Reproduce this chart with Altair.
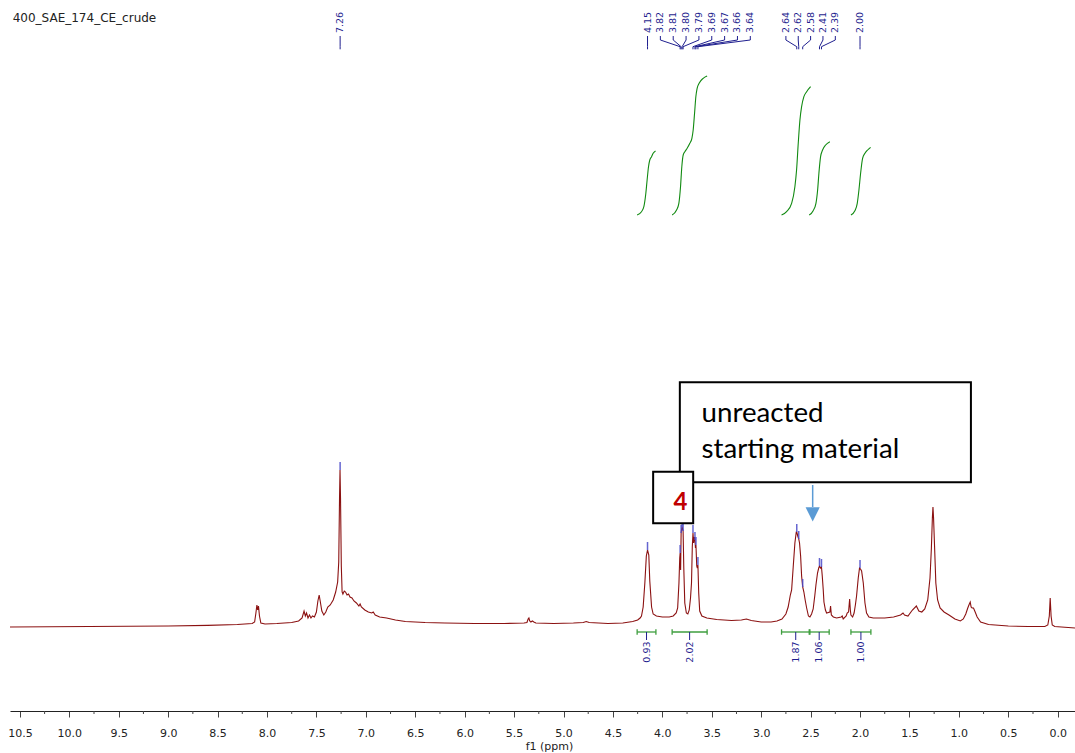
import altair as alt
import pandas as pd

TITLE = "400_SAE_174_CE_crude"
X_TITLE = "f1 (ppm)"
ANNOT_LINES = ["unreacted", "starting material"]
COMPOUND = "4"

# ---- spectrum (ppm, intensity) ----
spec_ppm = [10.60, 10.20, 9.80, 9.40, 9.00, 8.60, 8.30, 8.15, 8.125, 8.112, 8.102, 8.094, 8.086, 8.076, 8.062,
            8.02, 7.90, 7.75, 7.68, 7.645, 7.625, 7.612, 7.600, 7.585, 7.570, 7.555, 7.540, 7.520, 7.500,
            7.485, 7.472, 7.460, 7.445, 7.425, 7.405, 7.385, 7.360, 7.330, 7.305, 7.285, 7.274, 7.266,
            7.261, 7.256, 7.248, 7.240, 7.232, 7.218, 7.205, 7.190, 7.175, 7.160, 7.140, 7.120, 7.095,
            7.070, 7.058, 7.045, 7.010, 6.975, 6.940, 6.925, 6.905, 6.860, 6.790, 6.700, 6.600, 6.400,
            6.200, 5.900, 5.600, 5.400, 5.370, 5.358, 5.350, 5.342, 5.330, 5.315, 5.300, 5.280, 5.100,
            4.900, 4.800, 4.770, 4.740, 4.550, 4.400, 4.300, 4.250, 4.225, 4.211, 4.194, 4.177, 4.162,
            4.150, 4.137, 4.127, 4.109, 4.093, 4.060, 4.000, 3.930, 3.890, 3.860, 3.845, 3.832, 3.824,
            3.820, 3.815, 3.810, 3.805, 3.800, 3.795, 3.790, 3.783, 3.773, 3.757, 3.742, 3.728, 3.715,
            3.705, 3.697, 3.690, 3.683, 3.676, 3.670, 3.665, 3.660, 3.652, 3.646, 3.640, 3.632, 3.622,
            3.600, 3.550, 3.450, 3.300, 3.200, 3.150, 3.100, 3.000, 2.900, 2.840, 2.790, 2.750, 2.727,
            2.705, 2.692, 2.676, 2.659, 2.645, 2.640, 2.630, 2.620, 2.612, 2.601, 2.591, 2.580, 2.568,
            2.555, 2.540, 2.522, 2.507, 2.490, 2.474, 2.458, 2.446, 2.430, 2.418, 2.410, 2.400, 2.390,
            2.382, 2.372, 2.365, 2.350, 2.338, 2.305, 2.298, 2.290, 2.270, 2.237, 2.190, 2.180, 2.170,
            2.140, 2.130, 2.116, 2.105, 2.098, 2.092, 2.075, 2.060, 2.047, 2.035, 2.018, 2.005, 1.995,
            1.984, 1.967, 1.950, 1.934, 1.910, 1.866, 1.750, 1.660, 1.590, 1.565, 1.550, 1.515, 1.470,
            1.430, 1.405, 1.375, 1.345, 1.315, 1.292, 1.278, 1.268, 1.262, 1.256, 1.246, 1.233, 1.215,
            1.190, 1.150, 1.100, 1.040, 0.985, 0.955, 0.930, 0.910, 0.894, 0.885, 0.876, 0.866, 0.852,
            0.835, 0.815, 0.780, 0.700, 0.500, 0.300, 0.130, 0.100, 0.085, 0.076, 0.067, 0.055, 0.030,
            -0.175]
spec_int = [1.0, 1.2, 1.5, 1.8, 2.0, 2.6, 3.5, 4.5, 6, 15, 23, 18, 22, 12, 5,
            4, 4.5, 5.5, 7, 10, 17, 12, 15, 10, 13, 10, 12, 11, 16,
            27, 33, 26, 17, 13, 16, 21, 23, 28, 36, 46, 66, 130,
            158, 130, 62, 36, 34, 37, 36, 33, 34, 31, 30, 27, 25,
            22, 24, 21, 18, 16, 15, 16, 13, 11, 10, 8, 6.5, 5.5,
            5, 4.5, 4.5, 5, 5.5, 9, 10, 7, 6, 7, 6, 5, 4.5,
            5, 5.5, 6.5, 5.5, 4.5, 5, 6.5, 8, 10, 12, 21, 45, 72,
            78, 73, 47, 21, 14, 12, 11, 11, 12, 15, 20, 45, 70,
            75, 58, 95, 99, 101, 99, 97, 60, 25, 15, 14, 18, 30,
            45, 81, 95, 85, 91, 88, 80, 83, 62, 60, 63, 35, 17,
            12, 10, 8.5, 7.5, 8, 9, 7.5, 6, 6, 7, 9, 14, 21,
            33, 38, 61, 85, 96, 96, 92, 89, 85, 72, 52, 41, 36,
            28, 20, 12, 11, 14, 19, 32, 43, 55, 60, 62, 60, 61,
            52, 38, 26, 18, 15, 16, 22, 13, 11, 10, 11, 12, 9,
            12, 15, 16, 29, 18, 13, 11, 15, 23, 32, 50, 60, 59,
            57, 45, 25, 15, 11, 10, 10, 11, 13, 15, 13, 12, 18,
            22, 17, 16, 19, 28, 50, 80, 110, 121, 110, 82, 45, 28,
            20, 16, 13, 9, 7, 9, 14, 20, 24, 26, 21, 20, 20,
            16, 11, 6, 3.5, 2, 1.5, 1.5, 3, 12, 30, 12, 3, 1.5,
            0]

# ---- peak picking ----
peak_labels = ["7.26", "4.15", "3.82", "3.81", "3.80", "3.79", "3.69", "3.67", "3.66", "3.64",
               "2.64", "2.62", "2.58", "2.41", "2.39", "2.00"]
peak_ppm = [7.26, 4.15, 3.82, 3.81, 3.80, 3.79, 3.69, 3.67, 3.66, 3.64, 2.64, 2.62, 2.58, 2.41, 2.39, 2.00]
peak_height = [158, 78, 75, 95, 101, 97, 95, 88, 83, 63, 96, 89, 41, 62, 61, 60]
label_ppm = [7.26, 4.15, 4.02, 3.89, 3.76, 3.63, 3.50, 3.37, 3.24, 3.11, 2.75, 2.625, 2.50, 2.375, 2.25, 2.00]

# ---- integrals ----
integral_values = ["0.93", "2.02", "1.87", "1.06", "1.00"]
integral_start = [4.255, 3.901, 2.794, 2.514, 2.092]
integral_end = [4.065, 3.547, 2.507, 2.312, 1.890]

curve1_ppm = [4.255, 4.211, 4.187, 4.167, 4.154, 4.140, 4.127, 4.109, 4.093, 4.069]
curve1_val = [413, 416.3, 421.3, 434.7, 448, 461.3, 468, 471.3, 474.7, 477]
curve2_ppm = [3.901, 3.856, 3.833, 3.816, 3.803, 3.789, 3.772, 3.749, 3.722, 3.701, 3.688, 3.674, 3.661,
              3.648, 3.628, 3.587, 3.547]
curve2_val = [413, 418, 424.7, 441.3, 461.3, 473, 476.3, 479.7, 484.7, 489.7, 498, 514.7, 531.3,
              539.7, 544.7, 549.7, 552]
curve3_ppm = [2.794, 2.743, 2.692, 2.659, 2.642, 2.625, 2.608, 2.591, 2.568, 2.540, 2.500]
curve3_val = [413, 416.3, 424.7, 441.3, 458, 484.7, 508, 521.3, 531.3, 536.3, 541.3]
curve4_ppm = [2.514, 2.474, 2.446, 2.429, 2.416, 2.399, 2.379, 2.348, 2.305]
curve4_val = [413, 417.3, 424.7, 438, 454.7, 471.3, 478, 483, 486.3]
curve5_ppm = [2.092, 2.052, 2.028, 2.011, 1.994, 1.974, 1.950, 1.923, 1.893]
curve5_val = [413, 417.3, 424.7, 438, 454.7, 469.7, 474.7, 478, 480.7]

# ---- axis ticks ----
major_ticks = [10.5, 10.0, 9.5, 9.0, 8.5, 8.0, 7.5, 7.0, 6.5, 6.0, 5.5, 5.0, 4.5, 4.0, 3.5, 3.0,
               2.5, 2.0, 1.5, 1.0, 0.5, 0.0]
minor_ticks = [10.25, 9.75, 9.25, 8.75, 8.25, 7.75, 7.25, 6.75, 6.25, 5.75, 5.25, 4.75, 4.25, 3.75,
               3.25, 2.75, 2.25, 1.75, 1.25, 0.75, 0.25]

# ---- annotation anchors (data units) ----
big_box = dict(x=3.823, x2=0.878, y=245.7, y2=145.7)
small_box = dict(x=4.093, x2=3.688, y=156.3, y2=104.7)
annot_text_ppm = 3.603
annot_text_y = [206.3, 169.7]
compound_pos = dict(ppm=3.818, v=118)
arrow = dict(ppm=2.479, top=143, bottom=121, head=113.6)

# ---------------------------------------------------------------
RED = "#8b1111"
NAVY = "#1f1f8f"
GREEN_CURVE = "#118a11"
GREEN_BR = "#3e9e3e"
FONT = "DejaVu Sans"

xs = alt.Scale(domain=[-0.175, 10.6], reverse=True, nice=False, zero=False)
ys = alt.Scale(domain=[-83, 628], nice=False, zero=False)
xaxis = alt.Axis(values=major_ticks, format=".1f", tickSize=6, tickColor="#444444",
                 domainColor="#222222", labelFont=FONT, labelFontSize=11, labelColor="#222222",
                 labelPadding=10, labelFlush=False, labelOverlap=False, grid=False,
                 titleFont=FONT, titleFontSize=11, titleFontWeight="normal", titleColor="#222222",
                 titlePadding=2, titleX=539)


def X(f):
    return alt.X(f"{f}:Q", scale=xs, axis=xaxis, title=X_TITLE)


def Y(f):
    return alt.Y(f"{f}:Q", scale=ys, axis=None)


spec_df = pd.DataFrame({"ppm": spec_ppm, "v": spec_int})
spectrum = alt.Chart(spec_df).mark_line(color=RED, strokeWidth=1.1).encode(x=X("ppm"), y=Y("v"))

crows = []
for i, (cp, cv) in enumerate([(curve1_ppm, curve1_val), (curve2_ppm, curve2_val), (curve3_ppm, curve3_val),
                              (curve4_ppm, curve4_val), (curve5_ppm, curve5_val)]):
    for p, v in zip(cp, cv):
        crows.append({"k": i, "ppm": p, "v": v})
curves = alt.Chart(pd.DataFrame(crows)).mark_line(color=GREEN_CURVE, strokeWidth=1.1, interpolate="monotone").encode(
    x=X("ppm"), y=Y("v"), detail="k:N")

pk_df = pd.DataFrame({"lab": peak_labels, "ppm": peak_ppm, "h": peak_height, "lp": label_ppm})
pk_df["h2"] = pk_df["h"] + 8
pk_df["ty"] = 595
markers = alt.Chart(pk_df).mark_rule(color="#4a4ac8", strokeWidth=1.5, opacity=0.85).encode(
    x=X("ppm"), y=Y("h"), y2="h2:Q")

lrows = []
for lab, p, lp in zip(peak_labels, peak_ppm, label_ppm):
    for s, (xx, vv) in enumerate([(lp, 592), (lp, 588), (p, 581.3), (p, 578.7)]):
        lrows.append({"lab": lab + "_" + str(p), "s": s, "ppm": xx, "v": vv})
leaders = alt.Chart(pd.DataFrame(lrows)).mark_line(color=NAVY, strokeWidth=1).encode(
    x=X("ppm"), y=Y("v"), detail="lab:N", order="s:Q")

peak_text = alt.Chart(pk_df).mark_text(angle=270, align="left", baseline="middle", font=FONT,
                                       fontSize=9.5, color=NAVY).encode(x=X("lp"), y=Y("ty"), text="lab:N")

int_df = pd.DataFrame({"val": integral_values, "s": integral_start, "e": integral_end})
int_df["mid"] = (int_df["s"] + int_df["e"]) / 2
int_df["by"] = -4
int_df["cy1"] = -1.3
int_df["cy2"] = -6.7
int_df["ty"] = -12
int_df["txy"] = -13.5
brackets = alt.Chart(int_df).mark_rule(color=GREEN_BR, strokeWidth=1.3).encode(x=X("s"), x2="e:Q", y=Y("by"))
caps_l = alt.Chart(int_df).mark_rule(color=GREEN_BR, strokeWidth=1.3).encode(x=X("s"), y=Y("cy1"), y2="cy2:Q")
caps_r = alt.Chart(int_df).mark_rule(color=GREEN_BR, strokeWidth=1.3).encode(x=X("e"), y=Y("cy1"), y2="cy2:Q")
int_tick = alt.Chart(int_df).mark_rule(color=NAVY, strokeWidth=1).encode(x=X("mid"), y=Y("by"), y2="ty:Q")
int_text = alt.Chart(int_df).mark_text(angle=270, align="right", baseline="middle", font=FONT,
                                       fontSize=9.5, color=NAVY).encode(x=X("mid"), y=Y("txy"), text="val:N")

minor = alt.Chart(pd.DataFrame({"ppm": minor_ticks})).mark_rule(color="#444444", strokeWidth=1).encode(
    x=X("ppm"), y=alt.value(711), y2=alt.value(714))

title = alt.Chart(pd.DataFrame({"t": [TITLE]})).mark_text(
    align="left", baseline="alphabetic", font=FONT, fontSize=12, color="#222222").encode(
    x=alt.value(2.7), y=alt.value(22), text="t:N")

bb = pd.DataFrame([big_box])
big = alt.Chart(bb).mark_rect(fill="white", stroke="black", strokeWidth=2).encode(
    x=X("x"), x2="x2:Q", y=Y("y"), y2="y2:Q")
at_df = pd.DataFrame({"t": ANNOT_LINES, "ppm": [annot_text_ppm] * 2, "v": annot_text_y})
annot = alt.Chart(at_df).mark_text(align="left", baseline="alphabetic", font="Lato", fontSize=27.7,
                                   color="black").encode(x=X("ppm"), y=Y("v"), text="t:N")
ar_df = pd.DataFrame([arrow])
arrow_line = alt.Chart(ar_df).mark_rule(color="#5b9bd5", strokeWidth=1.5).encode(
    x=X("ppm"), y=Y("top"), y2="bottom:Q")
arrow_head = alt.Chart(ar_df).mark_point(shape="M-1,-1L1,-1L0,1Z", size=200, filled=True,
                                         color="#5b9bd5", opacity=1).encode(x=X("ppm"), y=Y("head"))
sb = pd.DataFrame([small_box])
small = alt.Chart(sb).mark_rect(fill="white", stroke="black", strokeWidth=2).encode(
    x=X("x"), x2="x2:Q", y=Y("y"), y2="y2:Q")
cp_df = pd.DataFrame([{"t": COMPOUND, **compound_pos}])
comp = alt.Chart(cp_df).mark_text(align="center", baseline="alphabetic", font="Lato", fontSize=24,
                                  fontWeight="bold", color="#c00000").encode(x=X("ppm"), y=Y("v"), text="t:N")

chart = alt.layer(
    spectrum, curves, markers, leaders, peak_text, brackets, caps_l, caps_r, int_tick, int_text,
    minor, title, big, annot, arrow_line, arrow_head, small, comp
).properties(
    width=1065, height=711,
    autosize=alt.AutoSizeParams(type="none"),
    padding={"left": 10, "top": 0, "right": 0, "bottom": 42},
    background="white",
).configure_view(stroke="transparent")

chart.save("out.html", embed_options={"renderer": "svg", "actions": False})
